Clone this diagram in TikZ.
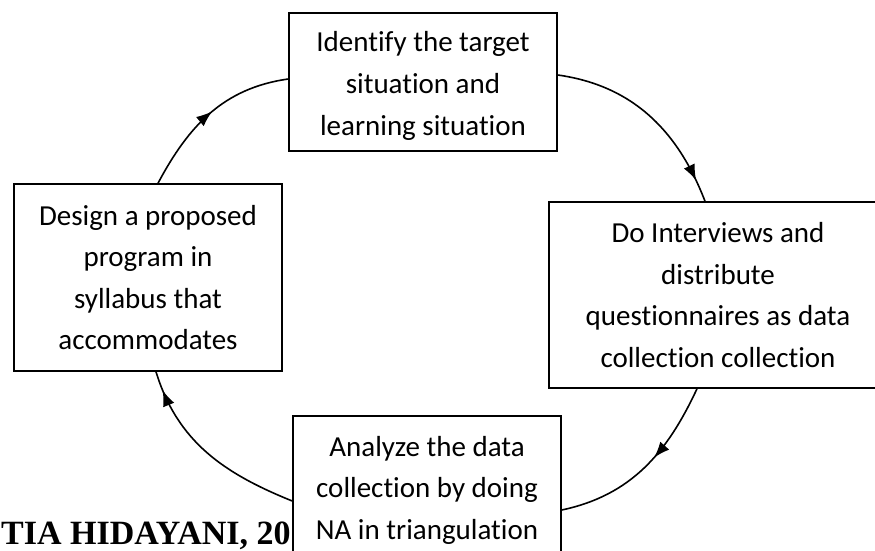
\documentclass[tikz,border=0pt]{standalone}
\usepackage{fontspec}
\setmainfont{Carlito}[Ligatures=NoCommon]
\newfontfamily\capfont{Liberation Serif}
\usetikzlibrary{arrows.meta,decorations.markings}

\tikzset{
  stagebox/.style={draw, line width=1.5pt, fill=white, inner sep=0pt},
  stage/.style={stagebox, align=center,
    font=\fontsize{29}{41.5}\selectfont},
  stagetext/.style={align=center, inner sep=0pt,
    font=\fontsize{29}{42}\selectfont},
  flow/.style={line width=1.6pt},
  tipat/.style={postaction={decorate}, decoration={markings,
    mark=at position #1 with {\arrow{Latex[length=16pt,width=12pt]}}}},
  caption/.style={anchor=base west, inner sep=0pt,
    font=\capfont\bfseries\fontsize{34}{40}\selectfont}
}

\begin{document}
\begin{tikzpicture}[x=1pt,y=1pt]
  \useasboundingbox (0,0) rectangle (875,-551);
  \clip (0,0) rectangle (875,-551);

  % running footer text, partly covered by the last stage
  \node[caption] (C) at (1,-544) {TIA HIDAYANI, 201};

  % the four stages of the cycle
  \node[stagebox, minimum width=268pt, minimum height=138pt] (T) at (423,-82) {};
  \node[stagetext] (Tt) at (423,-86)
    {Identify the target\\situation and\\learning situation};
  \node[stage, minimum width=338pt, minimum height=186pt] (R) at (718,-295)
    {Do Interviews and\\distribute\\questionnaires as data\\collection collection};
  \node[stage, minimum width=268pt, minimum height=148pt] (B) at (427,-490)
    {Analyze the data\\collection by doing\\NA in triangulation};
  \node[stage, minimum width=268pt, minimum height=187pt] (L) at (148,-277.5)
    {Design a proposed\\program in\\syllabus that\\accommodates};

  % curved arrows running clockwise
  \draw[flow, tipat=0.52] ([xshift=10pt]L.north) to[out=62,in=188] ([yshift=3pt]T.west);
  \draw[flow, tipat=0.89] ([yshift=7pt]T.east) to[out=-8,in=111] ([xshift=-13pt]R.north);
  \draw[flow, tipat=0.43] ([xshift=-21pt]R.south) to[out=-115,in=12] ([yshift=-20pt]B.east);
  \draw[flow, tipat=0.9] ([yshift=-11pt]B.west) to[out=158,in=-73] ([xshift=8pt]L.south);
\end{tikzpicture}
\end{document}
